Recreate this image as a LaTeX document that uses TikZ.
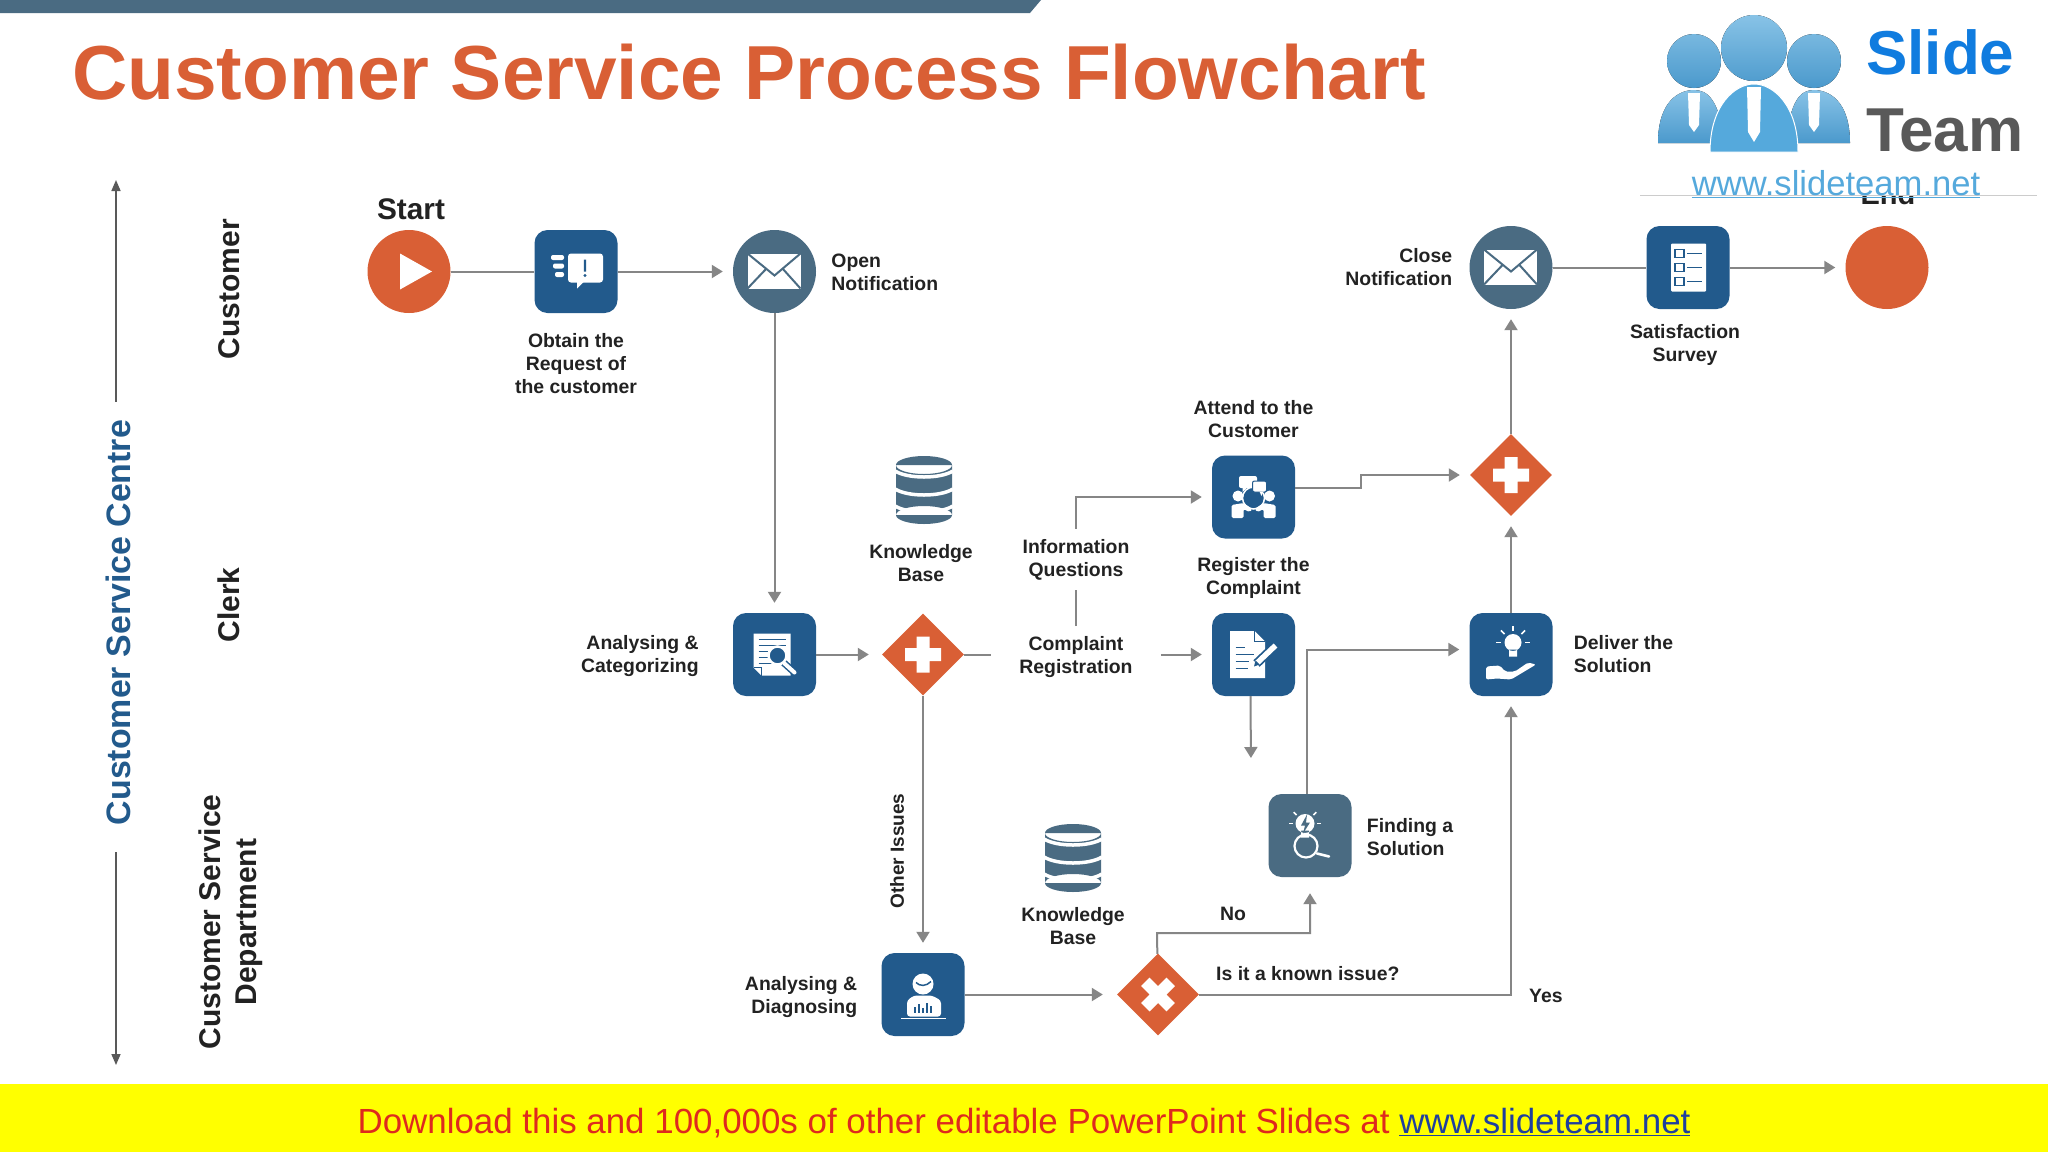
\documentclass[tikz,border=0pt]{standalone}
\usepackage{fontspec}
\setmainfont{Liberation Sans}
\usetikzlibrary{shapes.geometric,arrows.meta,positioning}
\definecolor{blueb}{HTML}{225A8C}
\definecolor{slate}{HTML}{4A6B82}
\definecolor{rust}{HTML}{D95F35}
\definecolor{edge}{HTML}{868686}
\definecolor{ink}{HTML}{222222}
\definecolor{skyb}{HTML}{55A9DC}
\definecolor{purey}{HTML}{FFFF00}
\definecolor{adred}{HTML}{DE2A1E}
\definecolor{adblue}{HTML}{1F3F9E}
\tikzstyle{block} = [rectangle, rounded corners=13pt, fill=blueb, minimum size=83pt, inner sep=0pt]
\tikzstyle{round} = [circle, minimum size=83pt, inner sep=0pt]
\tikzstyle{decision} = [diamond, fill=rust, minimum size=82pt, inner sep=0pt]
\tikzstyle{lbl} = [font=\fontsize{19.4}{23}\selectfont\bfseries, text=ink, inner sep=0pt, align=center]
\tikzstyle{lane} = [font=\fontsize{30}{36}\selectfont\bfseries, text=ink, inner sep=0pt, align=center, rotate=90]
\tikzstyle{wire} = [draw=edge, line width=2pt]
\tikzstyle{line} = [wire, -{Triangle[length=11pt,width=13pt]}, shorten >=10pt]
\tikzstyle{side} = [draw=ink!75, line width=1.6pt, -{Triangle[length=11pt,width=9pt]}]
\newcommand{\mailicon}[1]{\begin{scope}[shift={(#1)}]
    \fill [white] (-27,-18) rectangle (26,17);
    \draw [slate, line width=2pt] (-27,-18) -- (0,4) -- (26,-18);
    \draw [slate, line width=2pt] (-27,17) -- (-8,-3) (26,17) -- (8,-3);
\end{scope}}
\newcommand{\plusicon}[1]{\begin{scope}[shift={(#1)}]
    \fill [white] (-18,-6.5) rectangle (18,6.5) (-6.5,-18) rectangle (6.5,18);
\end{scope}}
\newcommand{\kbicon}[1]{\begin{scope}[shift={(#1)}]
    \fill [slate] (0,-25) ellipse (28 and 9) (-28,-25) rectangle (28,25) (0,25) ellipse (28 and 9);
    \foreach \h in {-19,-1,16}
        \draw [white, line width=3.5pt] (-29,\h) .. controls (-16,\h+8) and (16,\h+8) .. (29,\h);
\end{scope}}

\begin{document}
\begin{tikzpicture}[x=1pt, y=-1pt]
    \useasboundingbox (0,0) rectangle (2048,1152);
    \fill [white] (0,0) rectangle (2048,1152);

    % Place bands and title
    \fill [slate] (0,0) -- (1041,0) -- (1030,13) -- (0,13) -- cycle;
    \node [anchor=west, inner sep=0pt, text=rust, font=\fontsize{76.6}{80}\selectfont\bfseries] (title) at (72,72) {Customer Service Process Flowchart};
    \node [fill=purey, minimum width=2048pt, minimum height=68pt, inner sep=0pt, anchor=north west] (band) at (0,1084) {};
    \node [font=\fontsize{34.9}{38}\selectfont, text=adred, inner sep=0pt] (download) at (1024,1123) {Download this and 100,000s of other editable PowerPoint Slides at \textcolor{adblue}{\underline{www.slideteam.net}}};

    % Place nodes
    \node [round, fill=rust] (start) at (409,271.5) {};
    \node [block, right of=start, node distance=167pt] (request) {};
    \node [round, fill=slate, right of=request, node distance=198.5pt] (openmail) {};
    \node [block, below of=openmail, node distance=383pt] (sorting) {};
    \node [decision, right of=sorting, node distance=148.5pt] (gate1) {};
    \node [block, right of=gate1, node distance=330.5pt] (register) {};
    \node [block, above of=register, node distance=157.5pt] (attend) {};
    \node [block, right of=register, node distance=257.5pt] (deliver) {};
    \node [decision, above of=deliver, node distance=179.5pt] (gate2) {};
    \node [round, fill=slate, above of=gate2, node distance=207.5pt] (closemail) {};
    \node [block, right of=closemail, node distance=177pt] (survey) {};
    \node [round, fill=rust, right of=survey, node distance=199pt] (finish) {};
    \node [block, below of=gate1, node distance=340pt] (diagnose) {};
    \node [decision, right of=diagnose, node distance=235pt] (gate3) {};
    \node [block, fill=slate] (finding) at (1310,835.5) {};
    \node [minimum width=56pt, minimum height=68pt, inner sep=0pt] (kb1) at (924,490) {};
    \node [minimum width=56pt, minimum height=68pt, inner sep=0pt] (kb2) at (1073,858) {};

    % Place labels
    \node [lbl, font=\fontsize{29.8}{34}\selectfont\bfseries, above of=start, node distance=62pt, xshift=2pt] (startlbl) {Start};
    \node [lbl, below of=request, node distance=92.5pt] (requestlbl) {Obtain the\\ Request of\\ the customer};
    \node [lbl, align=left, right=15pt of openmail, yshift=-1pt] (openlbl) {Open\\ Notification};
    \node [lbl, align=right, left=34pt of sorting, yshift=-2pt] (sortinglbl) {Analysing \&\\ Categorizing};
    \node [lbl, below of=kb1, node distance=73.5pt, xshift=-3pt] (kb1lbl) {Knowledge\\ Base};
    \node [lbl, inner xsep=28pt, inner ysep=10pt] (infoq) at (1076,559.5) {Information\\ Questions};
    \node [lbl, inner xsep=28pt, inner ysep=10pt] (compreg) at (1076,657) {Complaint\\ Registration};
    \node [lbl, above of=attend, node distance=77.5pt] (attendlbl) {Attend to the\\ Customer};
    \node [lbl, above of=register, node distance=77pt] (registerlbl) {Register the\\ Complaint};
    \node [lbl, align=left, right=21pt of deliver] (deliverlbl) {Deliver the\\ Solution};
    \node [lbl, align=right, left=17pt of closemail] (closelbl) {Close\\ Notification};
    \node [lbl, below of=survey, node distance=77.5pt, xshift=-3pt] (surveylbl) {Satisfaction\\ Survey};
    \node [lbl, align=left, right=15pt of finding, yshift=-2pt] (findinglbl) {Finding a\\ Solution};
    \node [lbl, below of=kb2, node distance=68.5pt] (kb2lbl) {Knowledge\\ Base};
    \node [lbl, align=right, left=24pt of diagnose, yshift=-2.5pt] (diagnoselbl) {Analysing \&\\ Diagnosing};
    \node [lbl, rotate=90, font=\fontsize{19}{23}\selectfont\bfseries] (otherlbl) at (897,851) {Other Issues};
    \node [lbl] (nolbl) at (1233,914) {No};
    \node [lbl, anchor=west] (knownlbl) at (1216,974) {Is it a known issue?};
    \node [lbl, anchor=west] (yeslbl) at (1529,996) {Yes};
    \node [lbl, font=\fontsize{29}{34}\selectfont\bfseries, anchor=base] (endlbl) at (1888,204) {End};

    % Place lanes
    \node [lane, text=blueb, font=\fontsize{33.9}{38}\selectfont\bfseries, inner xsep=22pt] (centre) at (118,622.5) {Customer Service Centre};
    \node [lane] (customer) at (229,289) {Customer};
    \node [lane] (clerk) at (229,605) {Clerk};
    \node [lane] (department) at (231,922) {Customer Service\\ Department};
    \coordinate (centretop) at (116,180);
    \coordinate (centrebot) at (116,1065);

    % Draw edges
    \path [side] ([shift={(-2pt,-4pt)}]centre.east) -- (centretop);
    \path [side] ([shift={(-2pt,-5pt)}]centre.west) -- (centrebot);
    \path [wire] (start) -- (request);
    \path [line] (request) -- (openmail);
    \path [line] (openmail) -- (sorting);
    \path [line, shorten >=13pt] (sorting) -- (gate1);
    \path [wire] (gate1) -- (gate1 -| compreg.west);
    \path [wire] (compreg) -- (infoq);
    \path [line] (infoq) |- (attend.west);
    \path [line] (compreg.east |- register) -- (register);
    \coordinate (attendbend) at (1361,481);
    \path [line] ([yshift=9pt]attend.east) -| (attendbend) |- (gate2.west);
    \coordinate (registerdown) at (1251,768);
    \path [line] ([xshift=-3pt]register.south) -- (registerdown);
    \path [line] ([xshift=-3pt]finding.north) |- ([yshift=5pt]deliver.west);
    \path [line] (deliver) -- (gate2);
    \path [line] (gate2) -- (closemail);
    \path [wire] (closemail) -- (survey);
    \path [line] (survey) -- (finish);
    \path [line] (gate1) -- (diagnose);
    \path [line, shorten >=14pt] (diagnose) -- (gate3);
    \coordinate (nobend) at (1157,933);
    \path [line, shorten >=16pt] (gate3) -- (nobend) -| (finding.south);
    \path [line] (gate3) -| (deliver.south);

    % Icons on the nodes
    \begin{scope}[shift={(start)}]
        \fill [white] (-9,-18) -- (23,0) -- (-9,18) -- cycle;
    \end{scope}
    \mailicon{openmail}
    \mailicon{closemail}
    \plusicon{gate1}
    \plusicon{gate2}
    \kbicon{kb1}
    \kbicon{kb2}
    \begin{scope}[shift={(gate3)}, rotate=45]
        \fill [white] (-18,-6) rectangle (18,6) (-6,-18) rectangle (6,18);
    \end{scope}
    \begin{scope}[shift={(request)}]
        \fill [white, rounded corners=3pt] (-8,-18) rectangle (27,11);
        \fill [white] (1,9) -- (1,17) -- (9,9) -- cycle;
        \fill [blueb] (7.8,-12) rectangle (10.2,0) (9,4) circle (1.6);
        \fill [white, rounded corners=2pt] (-25,-16.5) rectangle (-12,-11.5) (-23,-8) rectangle (-12,-3) (-21,0.5) rectangle (-12,5.5);
    \end{scope}
    \begin{scope}[shift={(survey)}]
        \fill [white, rounded corners=1pt] (-17,-24) rectangle (18,24);
        \foreach \h in {-14,0,14} {
            \draw [blueb, line width=1.5pt] (-13,\h-4) rectangle (-4,\h+4);
            \draw [blueb, line width=1.5pt] (-1,\h) -- (14,\h);
        }
    \end{scope}
    \begin{scope}[shift={(sorting)}]
        \fill [white] (-21,-21) -- (16,-21) -- (16,21) -- (-13,21) -- (-21,13) -- cycle;
        \foreach \h in {-15,-9,-3,3,9}
            \draw [blueb, line width=1.5pt] (-16,\h) -- (11,\h);
        \draw [blueb, line width=1.5pt] (-21,13) -- (-13,13) -- (-13,21);
        \draw [blueb, line width=7pt, line cap=round] (9,8) -- (20,18);
        \draw [white, line width=4pt, line cap=round] (10,9) -- (20,18);
        \draw [white, fill=blueb, line width=2.5pt] (3,1) circle (9);
    \end{scope}
    \begin{scope}[shift={(attend)}]
        \draw [white, line width=1.5pt] (0,1) circle (11);
        \fill [white] (-15.5,-1) circle (5.5) (16,-1) circle (5.5);
        \fill [white, rounded corners=1.5pt] (-22,21) -- (-22,8) -- (-10,6) -- (-1,12) -- (-4,15) -- (-10,12) -- (-10,21) -- cycle;
        \fill [white, rounded corners=1.5pt] (22,21) -- (22,8) -- (10,6) -- (1,12) -- (4,15) -- (10,12) -- (10,21) -- cycle;
        \fill [white, rounded corners=2pt] (-14.5,-21) rectangle (3.5,-9);
        \fill [white] (-11,-10) -- (-11,-5) -- (-6,-10) -- cycle;
        \draw [blueb, fill=white, rounded corners=2pt, line width=1pt] (-1,-16) rectangle (13,-5);
        \fill [white] (6,-5.5) -- (8,-1) -- (10,-5.5) -- cycle;
    \end{scope}
    \begin{scope}[shift={(register)}]
        \fill [white] (-23.5,-23.5) -- (1,-23.5) -- (11.5,-13) -- (11.5,23.5) -- (-23.5,23.5) -- cycle;
        \draw [blueb, line width=1.5pt] (1,-23.5) -- (1,-13) -- (11.5,-13);
        \foreach \h/\w in {-7/-9,0/0,7/-5,14/-6}
            \draw [blueb, line width=1.5pt] (-18,\h) -- (\w,\h);
        \draw [blueb, line width=9pt] (3,9) -- (22,-9);
        \draw [white, line width=5.5pt] (3,9) -- (22,-9);
        \fill [blueb] (0.5,12) -- (2,6) -- (6,10) -- cycle;
    \end{scope}
    \begin{scope}[shift={(deliver)}]
        \fill [white] (2,-12) circle (8.5) (-2,-5) rectangle (6,2);
        \foreach \a in {180,225,270,315,360}
            \draw [white, line width=1.6pt] (2,-12) ++(\a:12) -- ++(\a:5);
        \fill [white, rounded corners=2pt] (-25,12) -- (-25,25) -- (-14,24) -- (0,25) -- (25,10) -- (17,8) -- (4,17) -- (-6,17) -- (-11,11) -- cycle;
    \end{scope}
    \begin{scope}[shift={(finding)}]
        \draw [white, line width=2.2pt] (-4,10.5) circle (11.5);
        \draw [white, line width=2.6pt, line cap=round] (7,18) -- (19,21);
        \fill [white] (-5,-12) circle (9.5) (-9,-5) rectangle (-1,2);
        \fill [slate] (-3,-21) -- (-9,-10) -- (-5,-10) -- (-7,-2) -- (0,-13) -- (-4,-13) -- cycle;
        \foreach \a in {180,225,315,360}
            \draw [white, line width=1.5pt] (-5,-12) ++(\a:12) -- ++(\a:4);
    \end{scope}
    \begin{scope}[shift={(diagnose)}]
        \fill [white] (0,-10.5) circle (10.5);
        \draw [blueb, line width=1.5pt] (-7,-12) .. controls (-3,-8) and (3,-8) .. (8,-13);
        \fill [white, rounded corners=3pt] (-16,6) -- (-9,1) -- (9,1) -- (18,6) -- (18,22) -- (-16,22) -- cycle;
        \draw [white, line width=1.5pt] (-22,24) -- (23,24);
        \foreach \b/\t in {-8/12,-4/9,0/13,4/8,8/11}
            \draw [blueb, line width=2pt] (\b,18) -- (\b,\t);
    \end{scope}

    % Logo over the corner
    \node [fill=white, minimum width=397pt, minimum height=195pt, inner sep=0pt, anchor=north west] (logo) at (1640,0) {};
    \draw [gray!40, line width=1.2pt] (logo.south west) -- (logo.south east);
    \tikzstyle{suit} = [top color=skyb!70!white, bottom color=skyb!80!blueb]
    \fill [suit] (1658,143) .. controls (1658,100) and (1680,90) .. (1694,90) .. controls (1708,90) and (1719,100) .. (1725,143) -- cycle;
    \fill [suit] (1785,143) .. controls (1791,100) and (1800,90) .. (1814,90) .. controls (1828,90) and (1850,100) .. (1850,143) -- cycle;
    \fill [suit] (1694,61) ellipse (27 and 27) (1814,61) ellipse (27 and 27) (1754,48) ellipse (33 and 33);
    \fill [white] (1688,93) -- (1700,93) -- (1699,125) -- (1694,132) -- (1689,125) -- cycle;
    \fill [white] (1808,93) -- (1820,93) -- (1819,125) -- (1814,132) -- (1809,125) -- cycle;
    \draw [white, line width=1pt, fill=skyb] (1710,152) .. controls (1710,105) and (1735,84) .. (1754,84) .. controls (1773,84) and (1798,105) .. (1798,152) -- cycle;
    \fill [white] (1747,87) -- (1761,87) -- (1760,132) -- (1754,142) -- (1748,132) -- cycle;
    \node [anchor=base west, inner sep=0pt, text=skyb!35!blue!60!cyan!90!black, font=\fontsize{62}{62}\selectfont\bfseries] (slide) at (1866,74) {Slide};
    \node [anchor=base west, inner sep=0pt, text=gray!70!black, font=\fontsize{62}{62}\selectfont\bfseries] (team) at (1866,151) {Team};
    \node [anchor=base, inner sep=0pt, text=skyb, font=\fontsize{34.6}{38}\selectfont] (url) at (1836,195) {\underline{www.slideteam.net}};
\end{tikzpicture}
\end{document}
